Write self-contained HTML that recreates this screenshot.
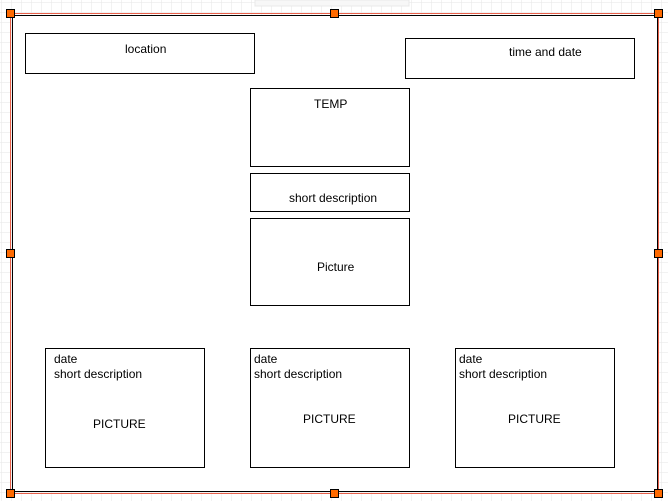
<!DOCTYPE html>
<html><head><meta charset="utf-8"><style>
html,body{margin:0;padding:0;background:#fff;}
svg{display:block;}
text{font-family:"Liberation Sans",sans-serif;font-size:12px;fill:#000;}
</style></head><body>
<svg width="668" height="501" viewBox="0 0 668 501" xmlns="http://www.w3.org/2000/svg">
<defs>
<pattern id="g" width="10" height="10" patternUnits="userSpaceOnUse" x="2" y="3">
<path d="M10 0V10M0 10H10" stroke="#e6e6e6" stroke-width="1" fill="none"/>
</pattern>
</defs>
<rect width="668" height="501" fill="url(#g)"/>
<rect x="255" y="0" width="154" height="6" fill="#f7f7f7" stroke="#e8e8e8"/>
<rect x="12.5" y="15.5" width="645" height="476" fill="#fff" stroke="#000"/>
<rect x="10.5" y="13.5" width="648" height="480" fill="none" stroke="#e8604a"/>
<g fill="none" stroke="#000">
<rect x="25.5" y="33.5" width="229" height="40"/>
<rect x="405.5" y="38.5" width="229" height="40"/>
<rect x="250.5" y="88.5" width="159" height="78"/>
<rect x="250.5" y="173.5" width="159" height="38"/>
<rect x="250.5" y="218.5" width="159" height="87"/>
<rect x="45.5" y="348.5" width="159" height="119"/>
<rect x="250.5" y="348.5" width="159" height="119"/>
<rect x="455.5" y="348.5" width="159" height="119"/>
</g>
<text x="125" y="53">location</text>
<text x="509" y="56">time and date</text>
<text x="314" y="108">TEMP</text>
<text x="289" y="202">short description</text>
<text x="317" y="271">Picture</text>
<text x="54" y="363">date</text>
<text x="54" y="378">short description</text>
<text x="93" y="428">PICTURE</text>
<text x="254" y="363">date</text>
<text x="254" y="378">short description</text>
<text x="303" y="423">PICTURE</text>
<text x="459" y="363">date</text>
<text x="459" y="378">short description</text>
<text x="508" y="423">PICTURE</text>
<g fill="#ff6a00" stroke="#000" stroke-width="1">
<rect x="6.5" y="9.5" width="8" height="8"/>
<rect x="330.5" y="9.5" width="8" height="8"/>
<rect x="654.5" y="9.5" width="8" height="8"/>
<rect x="6.5" y="249.5" width="8" height="8"/>
<rect x="654.5" y="249.5" width="8" height="8"/>
<rect x="6.5" y="489.5" width="8" height="8"/>
<rect x="330.5" y="489.5" width="8" height="8"/>
<rect x="654.5" y="489.5" width="8" height="8"/>
</g>
</svg>
</body></html>
